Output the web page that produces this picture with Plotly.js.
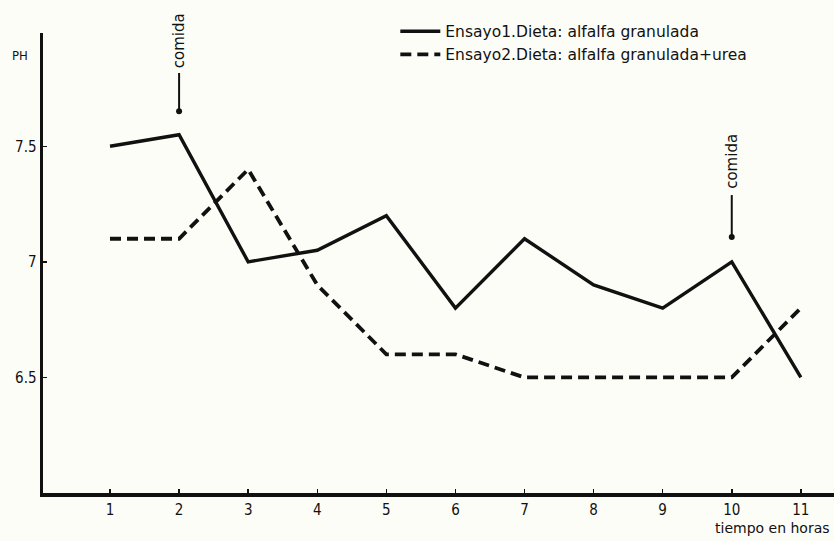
<!DOCTYPE html>
<html>
<head>
<meta charset="utf-8">
<script src="https://cdn.plot.ly/plotly-3.0.1.min.js"></script>
<style>html,body{margin:0;padding:0;background:#fdfdf8;}#chart{width:834px;height:541px;}</style>
</head>
<body>
<div id="chart"></div>
<script>
const horas = [1, 2, 3, 4, 5, 6, 7, 8, 9, 10, 11];
const ensayo1 = [7.5, 7.55, 7.0, 7.05, 7.2, 6.8, 7.1, 6.9, 6.8, 7.0, 6.5];
const ensayo2 = [7.1, 7.1, 7.4, 6.9, 6.6, 6.6, 6.5, 6.5, 6.5, 6.5, 6.8];
const nombre1 = "Ensayo1.Dieta: alfalfa granulada";
const nombre2 = "Ensayo2.Dieta: alfalfa granulada+urea";
const yTicks = [6.5, 7, 7.5];
const yTickText = ["6.5", "7", "7.5"];
const comidaHoras = [2, 10];

const font = "'DejaVu Sans Condensed', 'DejaVu Sans', sans-serif";
const fontWide = "'DejaVu Sans', sans-serif";

const traces = [
  {x: horas, y: ensayo1, name: nombre1, mode: "lines",
   line: {color: "#111", width: 3.4}},
  {x: horas, y: ensayo2, name: nombre2, mode: "lines",
   line: {color: "#111", width: 3.8, dash: "11px,6px"}}
];

const comidaGeom = [
  {text: 7.955, top: 7.817, dot: 7.652},
  {text: 7.436, top: 7.289, dot: 7.107}
];
const shapes = [];
const annotations = [];
comidaHoras.forEach((h, i) => {
  const g = comidaGeom[i];
  shapes.push({type: "line", xref: "x", yref: "y", x0: h, x1: h, y0: g.top, y1: g.dot,
               line: {color: "#111", width: 2}});
  annotations.push({x: h, y: g.text, xref: "x", yref: "y", text: "comida", showarrow: false,
                    xanchor: "center", yanchor: "middle",
                    textangle: -90, font: {family: fontWide, size: 15, color: "#111"}});
});
const dots = {x: comidaHoras, y: comidaGeom.map(g => g.dot), mode: "markers", showlegend: false,
              marker: {color: "#111", size: 6}, cliponaxis: false};
traces.push(dots);

annotations.push({xref: "paper", yref: "paper", x: -0.029, y: 0.952, xanchor: "center", yanchor: "middle",
                  text: "PH", showarrow: false, font: {family: font, size: 13, color: "#111"}});
annotations.push({xref: "paper", yref: "paper", x: 0.997, y: -0.076, xanchor: "right", yanchor: "middle",
                  text: "tiempo en horas", showarrow: false, font: {family: fontWide, size: 14, color: "#111"}});

const layout = {
  width: 834, height: 541,
  margin: {l: 43, r: 0, t: 33, b: 48, autoexpand: false},
  paper_bgcolor: "#fdfdf8", plot_bgcolor: "#fdfdf8",
  font: {family: font, size: 15, color: "#111"},
  showlegend: true,
  legend: {xref: "container", yref: "container", x: 0.474, y: 0.973, xanchor: "left", yanchor: "top",
           bgcolor: "rgba(0,0,0,0)",
           font: {family: fontWide, size: 15.5, color: "#111"}, tracegroupgap: 0, itemwidth: 40},
  xaxis: {range: [0.03, 11.48], showgrid: false, zeroline: false, showline: true, linewidth: 3.5,
          linecolor: "#111", tickvals: horas, ticks: "inside", ticklen: 4, tickwidth: 1.5,
          tickcolor: "#111", fixedrange: true, tickfont: {size: 15}},
  yaxis: {range: [6.0, 7.99], showgrid: false, zeroline: false, showline: true, linewidth: 3.5,
          linecolor: "#111", tickvals: yTicks, ticktext: yTickText, ticks: "inside", ticklen: 4,
          tickwidth: 1.5, tickcolor: "#111", fixedrange: true, tickfont: {size: 15}},
  shapes: shapes,
  annotations: annotations
};
Plotly.newPlot("chart", traces, layout, {displayModeBar: false, staticPlot: true});
</script>
</body>
</html>
